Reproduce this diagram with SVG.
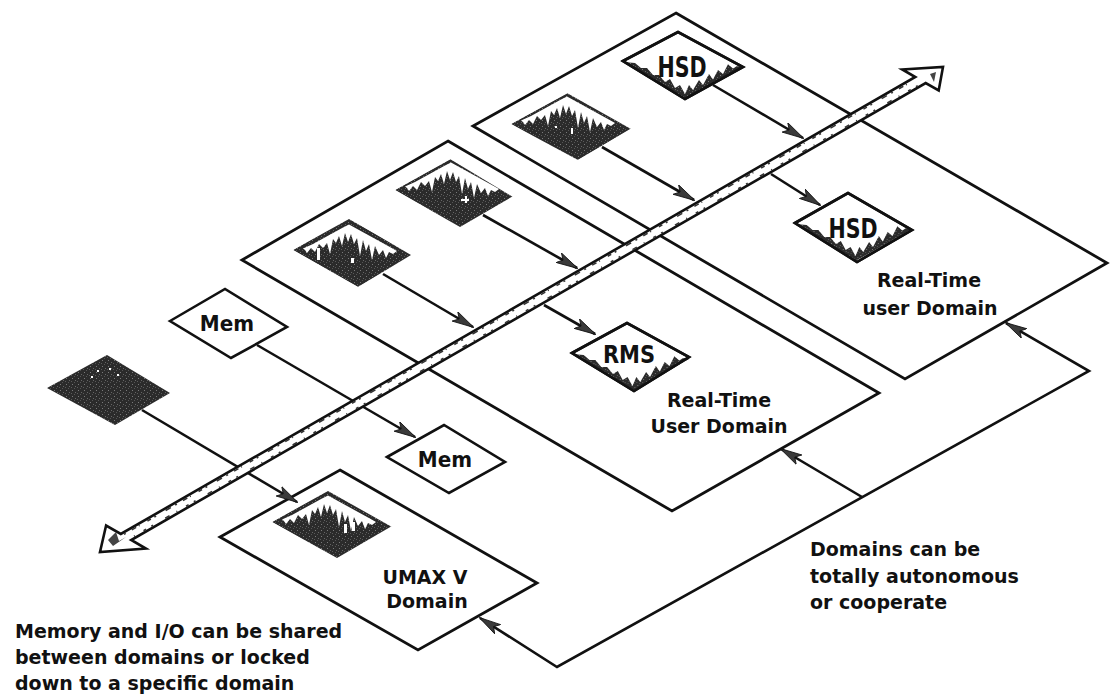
<svg xmlns="http://www.w3.org/2000/svg" width="1110" height="697" viewBox="0 0 1110 697">
<style>
.plane{fill:#fff;stroke:#111;stroke-width:2.8;stroke-linejoin:miter}
.wd{fill:#fff;stroke:#111;stroke-width:2.6;stroke-linejoin:miter}
.dk{fill:url(#grain)}
.shade{fill:url(#grain)}
.splash{fill:#fff}
.conn{fill:none;stroke:#111;stroke-width:2.6}
.lbl{font-family:"DejaVu Sans","Liberation Sans",sans-serif;font-weight:bold;font-size:19px;fill:#111}
.dev{font-family:"DejaVu Sans","Liberation Sans",sans-serif;font-weight:bold;font-size:20px;fill:#111;text-anchor:middle}
.mid{text-anchor:middle}
.bus{fill:#fff;stroke:#111;stroke-width:2.6;stroke-linejoin:miter}
.tex{fill:none;stroke:#333;stroke-width:1.6}
</style>
<defs>
<pattern id="grain" width="6" height="6" patternUnits="userSpaceOnUse">
<rect width="6" height="6" fill="#2b2b2b"/>
<rect x="1" y="2" width="1" height="1" fill="#7a7a7a"/>
<rect x="4" y="4" width="1" height="1" fill="#666"/>
<rect x="3" y="0" width="1" height="1" fill="#555"/>
<rect x="0" y="5" width="1" height="1" fill="#5a5a5a"/>
</pattern>
<clipPath id="clipDia"><polygon points="0,0 56,-31 120,5 65,37"/></clipPath>
<marker id="ah" viewBox="0 0 22 12" refX="21" refY="6" markerWidth="22" markerHeight="12" markerUnits="userSpaceOnUse" orient="auto">
<path d="M0,0.5 L22,6 L0,11.5 L5,6 Z" fill="#3a3a3a" stroke="#111" stroke-width="0.8"/>
</marker>
<marker id="ahs" viewBox="0 0 22 12" refX="21" refY="6" markerWidth="22" markerHeight="12" markerUnits="userSpaceOnUse" orient="auto-start-reverse">
<path d="M0,0.5 L22,6 L0,11.5 L5,6 Z" fill="#3a3a3a" stroke="#111" stroke-width="0.8"/>
</marker>
<path id="splashPath" d="M10,-3.5 L20,-8 L30,-13.5 L40,-19 L50,-24.5 L56,-27.5 L66,-22 L76,-16.5 L86,-11 L96,-5.5 L104,-1 L100,2 L96,0 L93,6 L90,-2 L86,3 L82,-6 L79,8 L76,-8 L73,-1 L70,-12 L67,4 L64,-14 L61,-8 L58,-18 L55,-10 L52,-19 L49,-6 L46,-16 L43,-9 L40,-13 L37,2 L34,-9 L30,-4 L26,-8 L22,0 L18,-4 L14,1 L12,-2 Z"/>
<path id="shadePath" d="M0,0 L62,38 L120,6 L114,5 L110,7.5 L105,3.3 L100,13 L95,9 L90,18.5 L86,13 L80,24 L76,19 L70,29 L66,24 L62,33 L57,24 L52,27 L47,18 L42,21 L36,14 L30,14 L24,7 L18,7 L12,2 L6,1.5 Z"/>
</defs>
<rect width="1110" height="697" fill="#fff"/>

<g id="domain-rt2">
<polygon class="plane" points="676,13 1107,263 905,379 473,126"/>
<text class="lbl mid" x="929" y="287">Real-Time</text>
<text class="lbl mid" x="930" y="315">user Domain</text>
</g>
<g id="domain-rt1">
<polygon class="plane" points="448,141 879,393 672,511 242,260"/>
<text class="lbl mid" x="719" y="407">Real-Time</text>
<text class="lbl mid" x="719" y="433">User Domain</text>
</g>
<g id="domain-umax">
<polygon class="plane" points="340,470 537,583 418,650 220,537"/>
<text class="lbl mid" x="425" y="584">UMAX V</text>
<text class="lbl mid" x="427" y="608">Domain</text>
</g>

<g id="connectors">
<path class="conn" d="M713,85 L803,138" marker-end="url(#ah)"/>
<path class="conn" d="M602,147 L694,200" marker-end="url(#ah)"/>
<path class="conn" d="M771,174 L820,205" marker-end="url(#ah)"/>
<path class="conn" d="M483,215 L577,268" marker-end="url(#ah)"/>
<path class="conn" d="M383,274 L473,327" marker-end="url(#ah)"/>
<path class="conn" d="M544,305 L595,334" marker-end="url(#ah)"/>
<path class="conn" d="M257,345 L415,437" marker-end="url(#ah)"/>
<path class="conn" d="M142,410 L297,502" marker-end="url(#ah)"/>
<path class="conn" d="M480,618 L557,667 L1089,371 L1006,323" marker-start="url(#ahs)" marker-end="url(#ah)"/>
<path class="conn" d="M862,497 L781,449" marker-end="url(#ah)"/>
</g>

<g id="cpu-rt2" transform="translate(511,124)">
<g clip-path="url(#clipDia)">
<polygon class="dk" points="0,0 57,-31 121,4 67,36"/>
<use href="#splashPath" class="splash"/>
<rect x="60" y="4" width="2" height="6" fill="#fff"/>
<rect x="44" y="2" width="2" height="2" fill="#fff"/>
</g>
</g>
<g id="hsd-a" transform="translate(623,61)">
<polygon class="wd" points="0,0 55,-29 120,6 62,38"/>
<use href="#shadePath" class="shade"/>
<polygon points="0,0 55,-29 120,6 62,38" fill="none" stroke="#111" stroke-width="2.6"/>
<text class="dev" transform="translate(59,16) scale(1.03,1.4)">HSD</text>
</g>
<g id="hsd-b" transform="translate(795,223)">
<polygon class="wd" points="0,0 53,-30 117,7 62,39"/>
<use href="#shadePath" class="shade" transform="scale(0.975,1)"/>
<polygon points="0,0 53,-30 117,7 62,39" fill="none" stroke="#111" stroke-width="2.6"/>
<text class="dev" transform="translate(58,15) scale(1.03,1.35)">HSD</text>
</g>

<g id="cpu-rt1-a" transform="translate(395,190)">
<g clip-path="url(#clipDia)">
<polygon class="dk" points="0,0 55,-31 118,7 65,38"/>
<use href="#splashPath" class="splash"/>
<rect x="70" y="6" width="2" height="7" fill="#fff"/>
<rect x="66" y="9" width="8" height="2" fill="#fff"/>
</g>
</g>
<g id="cpu-rt1-b" transform="translate(293,250)">
<g clip-path="url(#clipDia)">
<polygon class="dk" points="0,0 55,-32 118,5 65,37"/>
<use href="#splashPath" class="splash" transform="translate(0,2)"/>
<rect x="24" y="-2" width="3" height="12" fill="#fff"/>
<rect x="58" y="8" width="3" height="5" fill="#fff"/>
</g>
</g>
<g id="rms" transform="translate(572,353)">
<polygon class="wd" points="0,0 55,-30 117,4 62,38"/>
<use href="#shadePath" class="shade" transform="scale(0.975,1)"/>
<polygon points="0,0 55,-30 117,4 62,38" fill="none" stroke="#111" stroke-width="2.6"/>
<text class="dev" transform="translate(57,10) scale(1.05,1.22)">RMS</text>
</g>

<g id="mem-a" transform="translate(170,321)">
<polygon class="wd" points="0,0 55,-32 117,6 61,37"/>
<text class="dev" transform="translate(57,10) scale(1,1.1)">Mem</text>
</g>
<g id="mem-b" transform="translate(387,457)">
<polygon class="wd" points="0,0 57,-32 118,5 62,36"/>
<text class="dev" transform="translate(58,10) scale(1,1.1)">Mem</text>
</g>
<g id="cpu-free" transform="translate(47,388)">
<polygon class="dk" points="0,0 60,-33 123,5 68,37"/>
<rect x="50" y="-18" width="2" height="2" fill="#fff"/>
<rect x="62" y="-20" width="2" height="2" fill="#fff"/>
<rect x="70" y="-14" width="2" height="2" fill="#fff"/>
<rect x="44" y="-12" width="2" height="2" fill="#fff"/>
</g>
<g id="cpu-umax" transform="translate(272,522)">
<g clip-path="url(#clipDia)">
<polygon class="dk" points="0,0 56,-32 120,4 65,36"/>
<use href="#splashPath" class="splash" transform="translate(0,1)"/>
<rect x="72" y="2" width="3" height="9" fill="#fff"/>
<rect x="80" y="0" width="3" height="9" fill="#fff"/>
</g>
</g>

<g id="bus">
<polygon class="bus" points="100,552 106.1,525.5 120.8,534 915.3,77 902.3,69.5 943,67 938.7,90.5 925.7,83 131.2,540 145.9,548.5"/>
<path class="tex" d="M124,534.4 L912,81.2" stroke-dasharray="2 7 5 3 1 9 4 4 2 11 6 5"/>
<path class="tex" d="M134,536.2 L918,85.4" stroke-dasharray="1 10 3 6 2 14 5 8"/>
<path d="M108,540 L116,532 L119,541 L126,537 L113,546 Z" fill="#444"/>
<path d="M930,74 L936,72 L934,82 Z" fill="#444"/>
</g>

<g id="notes">
<text class="lbl" x="810" y="556">Domains can be</text>
<text class="lbl" x="810" y="583">totally autonomous</text>
<text class="lbl" x="810" y="609">or cooperate</text>
<text class="lbl" x="15" y="638">Memory and I/O can be shared</text>
<text class="lbl" x="15" y="664">between domains or locked</text>
<text class="lbl" x="15" y="690">down to a specific domain</text>
</g>
</svg>
